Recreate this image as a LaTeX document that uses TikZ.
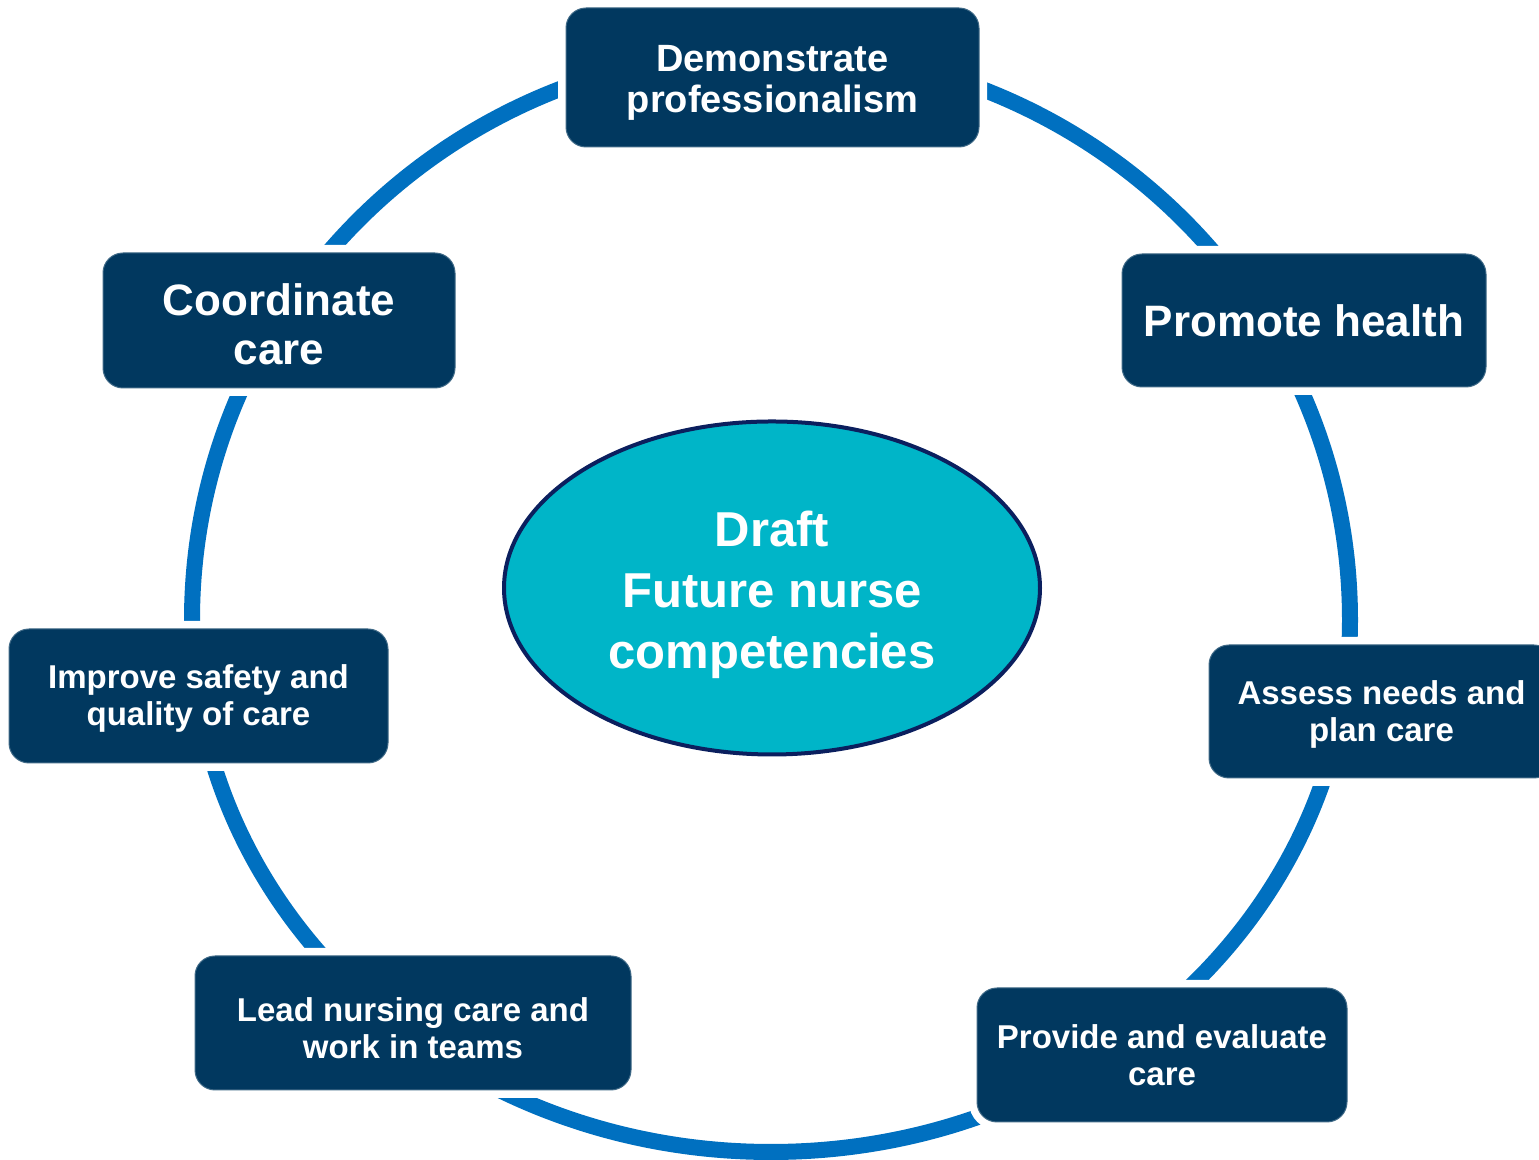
\documentclass[tikz,border=0pt]{standalone}
\usepackage{fontspec}
\setmainfont{Liberation Sans}
\usetikzlibrary{shapes.geometric}
\definecolor{boxnavy}{HTML}{01385F}
\definecolor{ringblue}{HTML}{0070C0}
\definecolor{ovalfill}{HTML}{00B5C8}
\definecolor{ovalrim}{HTML}{0B1F5E}
\newcommand{\lowerby}[1]{\rule{0pt}{#1}}
\begin{document}
\begin{tikzpicture}[x=0.5pt,y=0.5pt,
  comp/.style={rectangle, rounded corners=10pt, fill=boxnavy, draw=boxnavy!75!white,
    line width=0.5pt, text=white, align=center, inner sep=0pt,
    font=\bfseries\fontsize{16.5}{18.5}\selectfont,
    preaction={draw=white, line width=8pt}},
  bigcomp/.style={comp, font=\bfseries\fontsize{22}{24.5}\selectfont},
  midcomp/.style={comp, font=\bfseries\fontsize{19}{20.5}\selectfont},
  ring/.style={draw=ringblue, line width=8pt},
  hub/.style={ellipse, fill=ovalfill, draw=ovalrim, line width=2pt, text=white,
    align=center, inner sep=0pt, font=\bfseries\fontsize{24.5}{30.5}\selectfont}]
\useasboundingbox (0,0) rectangle (1539,1160);
\clip (0,0) rectangle (1539,1160);
\fill[white] (0,0) rectangle (1539,1160);
% ring
\draw[ring] (192,540) arc[start angle=180, end angle=0, x radius=579, y radius=570]
  arc[start angle=0, end angle=-180, x radius=579, y radius=532] -- cycle;
% centre
\node[hub, minimum width=268pt, minimum height=166.5pt] (core) at (772,572)
  {\lowerby{25pt}Draft\\Future nurse\\competencies};
% boxes
\node[midcomp, minimum width=206.5pt, minimum height=69.5pt] (demo) at (772.5,1082.5)
  {\lowerby{18pt}Demonstrate\\professionalism};
\node[bigcomp, minimum width=176pt, minimum height=67.5pt] (coord) at (279,839.5)
  {\lowerby{20pt}Coordinate\\care};
\node[bigcomp, minimum width=182pt, minimum height=66.5pt] (prom) at (1304,839.5)
  {Promote health};
\node[comp, minimum width=189.5pt, minimum height=67pt] (safe) at (198.5,464)
  {\lowerby{14.5pt}Improve safety and\\quality of care};
\node[comp, minimum width=172.5pt, minimum height=66.5pt] (assess) at (1381.5,448.5)
  {\lowerby{14.5pt}Assess needs and\\plan care};
\node[comp, minimum width=218pt, minimum height=67pt] (lead) at (413,137)
  {\lowerby{17pt}Lead nursing care and\\work in teams};
\node[comp, minimum width=185pt, minimum height=67pt] (prov) at (1162,105)
  {Provide and evaluate\\care};
\end{tikzpicture}
\end{document}
